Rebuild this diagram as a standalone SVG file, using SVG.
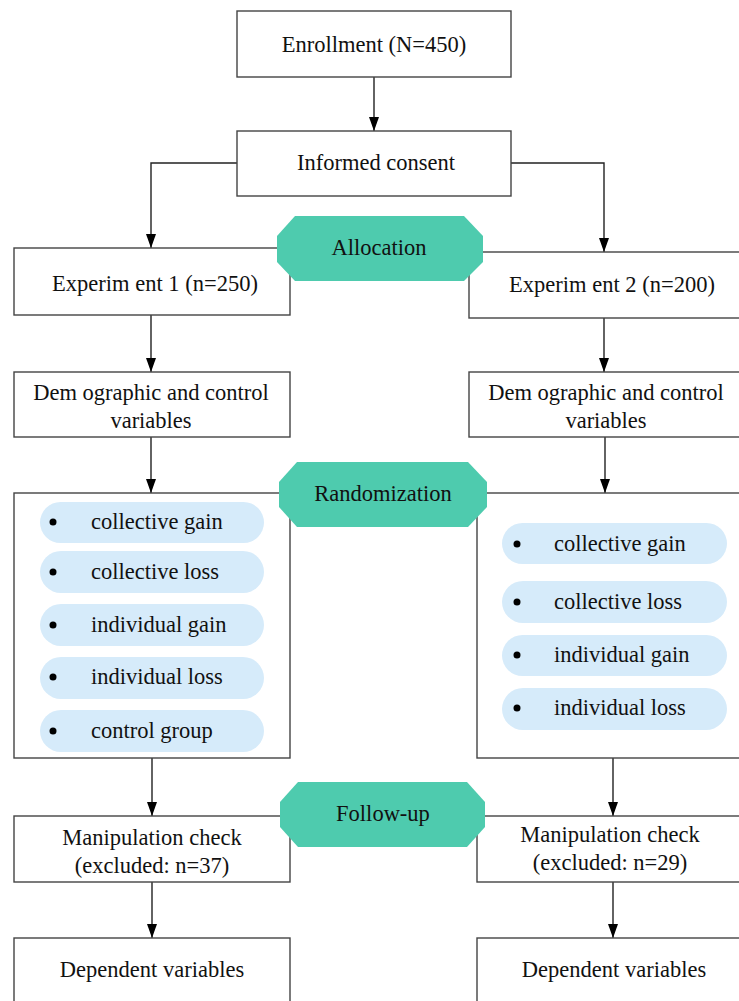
<svg xmlns="http://www.w3.org/2000/svg" width="739" height="1001" viewBox="0 0 739 1001">
<style>
.box{fill:#fff;stroke:#444;stroke-width:1.4}
.hex{fill:#4ECBAE}
.pill{fill:#D6EBFA}
.ln{fill:none;stroke:#222;stroke-width:1.4}
.dot{fill:#000}
text{font-family:"Liberation Serif","Times New Roman",serif;font-size:22.5px;fill:#111}
.c{text-anchor:middle}
</style>
<defs>
<marker id="a" viewBox="0 0 14 10" refX="14" refY="5" markerWidth="14" markerHeight="10" markerUnits="userSpaceOnUse" orient="auto"><path d="M0,0 L14,5 L0,10 Z" fill="#000"/></marker>
</defs>
<g id="connectors">
<path class="ln" d="M374,77 V131" marker-end="url(#a)"/>
<path class="ln" d="M237,163 H151 V248" marker-end="url(#a)"/>
<path class="ln" d="M511,163 H604 V252" marker-end="url(#a)"/>
<path class="ln" d="M151,315 V372" marker-end="url(#a)"/>
<path class="ln" d="M604,318 V372" marker-end="url(#a)"/>
<path class="ln" d="M151,437 V493" marker-end="url(#a)"/>
<path class="ln" d="M605,437 V493" marker-end="url(#a)"/>
<path class="ln" d="M152,758 V816" marker-end="url(#a)"/>
<path class="ln" d="M613,758 V816" marker-end="url(#a)"/>
<path class="ln" d="M152,882 V938" marker-end="url(#a)"/>
<path class="ln" d="M613,882 V938" marker-end="url(#a)"/>
</g>
<g id="enrollment"><rect class="box" x="237" y="11" width="274" height="66"/><text class="c" x="374" y="52">Enrollment (N=450)</text></g>
<g id="consent"><rect class="box" x="237" y="131" width="274" height="65"/><text class="c" x="376" y="170">Informed consent</text></g>
<g id="exp1"><rect class="box" x="14" y="248" width="276" height="67"/><text class="c" x="155" y="291">Experim ent 1 (n=250)</text></g>
<g id="exp2"><rect class="box" x="469" y="252" width="272" height="66"/><text class="c" x="612" y="292">Experim ent 2  (n=200)</text></g>
<g id="allocation"><polygon class="hex" points="295,216 464,216 483,236 483,262 464,281 295,281 277,262 277,236"/><text class="c" x="379" y="255">Allocation</text></g>
<g id="demo1"><rect class="box" x="14" y="372" width="276" height="65"/><text class="c" x="151" y="400">Dem ographic and control</text><text class="c" x="151" y="428">variables</text></g>
<g id="demo2"><rect class="box" x="469" y="372" width="272" height="65"/><text class="c" x="606" y="400">Dem ographic and control</text><text class="c" x="606" y="428">variables</text></g>
<g id="groups1"><rect class="box" x="14" y="493" width="276" height="265"/>
<rect class="pill" x="40" y="502" width="224" height="41" rx="20.5"/><circle class="dot" cx="53" cy="522" r="3.5"/><text x="91" y="529">collective gain</text>
<rect class="pill" x="40" y="551" width="224" height="42" rx="21"/><circle class="dot" cx="53" cy="572" r="3.5"/><text x="91" y="579">collective loss</text>
<rect class="pill" x="40" y="604" width="224" height="42" rx="21"/><circle class="dot" cx="53" cy="625" r="3.5"/><text x="91" y="632">individual gain</text>
<rect class="pill" x="40" y="657" width="224" height="42" rx="21"/><circle class="dot" cx="53" cy="677" r="3.5"/><text x="91" y="684">individual loss</text>
<rect class="pill" x="40" y="710" width="224" height="42" rx="21"/><circle class="dot" cx="53" cy="731" r="3.5"/><text x="91" y="738">control group</text>
</g>
<g id="groups2"><rect class="box" x="477" y="493" width="264" height="265"/>
<rect class="pill" x="502" y="523" width="225" height="41" rx="20.5"/><circle class="dot" cx="517" cy="544" r="3.5"/><text x="554" y="551">collective gain</text>
<rect class="pill" x="502" y="581" width="225" height="42" rx="21"/><circle class="dot" cx="517" cy="602" r="3.5"/><text x="554" y="609">collective loss</text>
<rect class="pill" x="502" y="635" width="225" height="41" rx="20.5"/><circle class="dot" cx="517" cy="655" r="3.5"/><text x="554" y="662">individual gain</text>
<rect class="pill" x="502" y="688" width="225" height="42" rx="21"/><circle class="dot" cx="517" cy="708" r="3.5"/><text x="554" y="715">individual loss</text>
</g>
<g id="randomization"><polygon class="hex" points="297,462 468,462 487,482 487,507 468,527 297,527 279,507 279,482"/><text class="c" x="383" y="501">Randomization</text></g>
<g id="manip1"><rect class="box" x="14" y="816" width="276" height="66"/><text class="c" x="152" y="845">Manipulation check</text><text class="c" x="152" y="873">(excluded: n=37)</text></g>
<g id="manip2"><rect class="box" x="477" y="816" width="264" height="66"/><text class="c" x="610" y="842">Manipulation check</text><text class="c" x="610" y="870">(excluded: n=29)</text></g>
<g id="followup"><polygon class="hex" points="298,782 467,782 485,802 485,827 467,847 298,847 280,827 280,802"/><text class="c" x="383" y="821">Follow-up</text></g>
<g id="dep1"><rect class="box" x="14" y="938" width="276" height="70"/><text class="c" x="152" y="977">Dependent variables</text></g>
<g id="dep2"><rect class="box" x="477" y="938" width="264" height="70"/><text class="c" x="614" y="977">Dependent variables</text></g>
</svg>
